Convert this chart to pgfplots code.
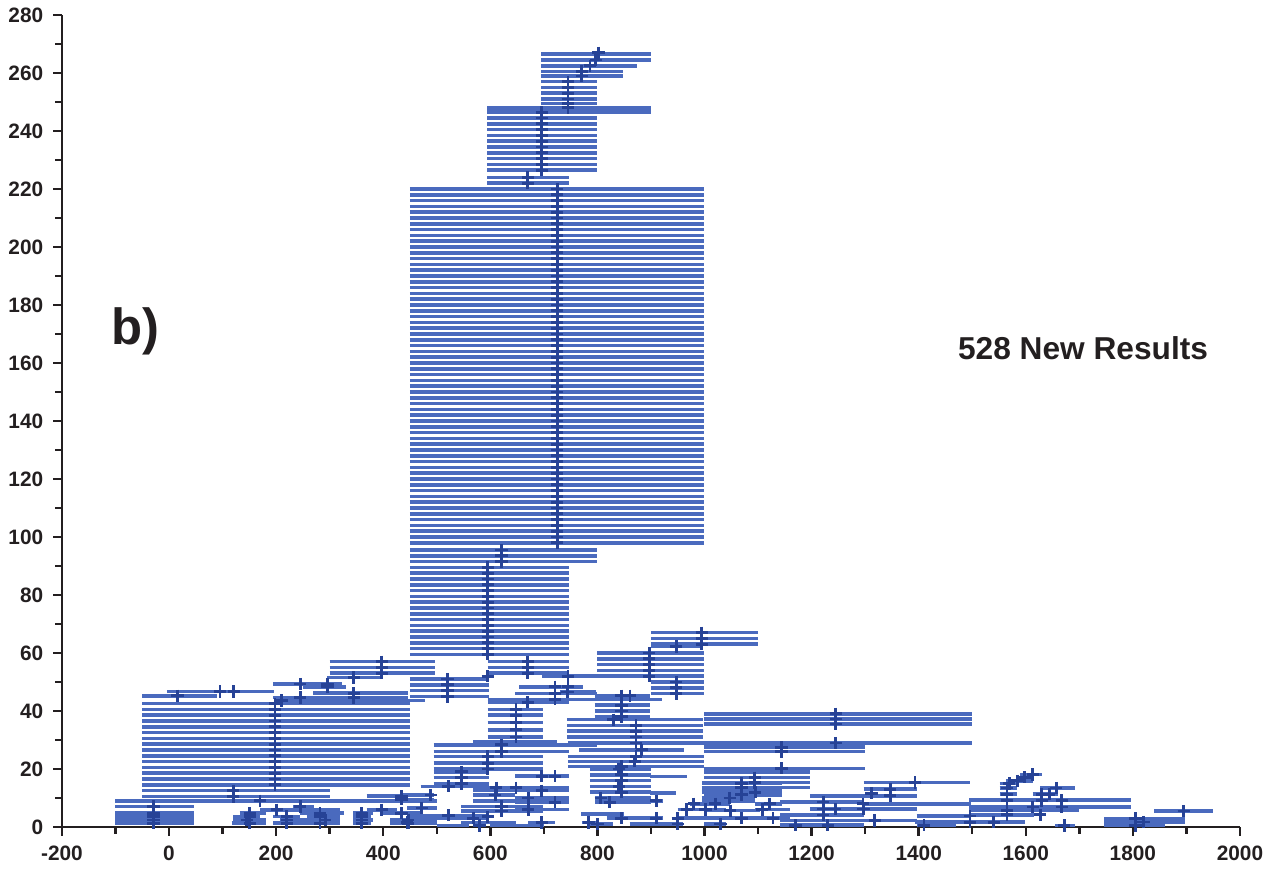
\documentclass[border=0pt]{standalone}
\usepackage{pgfplots}
\pgfplotsset{compat=1.18}
\usepackage{pgfplotstable}
\usepackage{fontspec}
\setmainfont{Liberation Sans}
\definecolor{barblue}{RGB}{74,106,190}
\definecolor{markblue}{RGB}{38,66,150}
\definecolor{axisgray}{RGB}{35,31,32}

\pgfplotstableread{
y lo hi
266.5 695 900
264.5 695 900
262.5 695 874
260.5 695 848
259 695 848
257 695 799
255 695 799
253 695 799
251 695 799
249.5 695 799
248 594 900
246.5 594 900
244.5 594 799
242.5 594 799
240.5 594 799
238.5 594 799
236.5 594 799
234.5 594 799
232.5 594 799
230.5 594 799
228.5 594 799
226.5 594 799
224 594 747
222 594 747
220 450 1000
218 450 1000
216 450 1000
214 450 1000
212 450 1000
210 450 1000
208 450 1000
206 450 1000
204 450 1000
202 450 1000
200 450 1000
198 450 1000
196 450 1000
194 450 1000
192 450 1000
190 450 1000
188 450 1000
186 450 1000
184 450 1000
182 450 1000
180 450 1000
178 450 1000
176 450 1000
174 450 1000
172 450 1000
170 450 1000
168 450 1000
166 450 1000
164 450 1000
162 450 1000
160 450 1000
158 450 1000
156 450 1000
154 450 1000
152 450 1000
150 450 1000
148 450 1000
146 450 1000
144 450 1000
142 450 1000
140 450 1000
138 450 1000
136 450 1000
134 450 1000
132 450 1000
130 450 1000
128 450 1000
126 450 1000
124 450 1000
122 450 1000
120 450 1000
118 450 1000
116 450 1000
114 450 1000
112 450 1000
110 450 1000
108 450 1000
106 450 1000
104 450 1000
102 450 1000
100 450 1000
98 450 1000
95.5 450 799
93.5 450 799
91.5 450 799
89.5 450 747
87.5 450 747
85.5 450 747
83.5 450 747
81.5 450 747
79.5 450 747
77.5 450 747
75.5 450 747
73.5 450 747
71.5 450 747
69.5 450 747
67.5 450 747
65.5 450 747
63.5 450 747
61.5 450 747
59.5 450 747
67 900 1100
65 900 1100
63 900 1100
62.2 900 997
60 800 1000
58 800 1000
56 800 1000
54 800 1000
52 800 1000
57 300 497
55 300 497
53 300 497
57 595 747
55 595 747
53 595 747
51.5 295 400
52 696 799
51 450 597
49 450 597
47 450 597
45 450 597
49.3 194 323
48.3 250 330
48.3 654 773
46.7 -4 196
46.1 269 447
46 646 799
45.2 -50 90
44.6 194 447
44 595 799
43.6 207 478
43 595 747
50 900 1000
48 900 1000
46 900 1000
46.5 730 798
45.2 795 898
44 795 920
42 795 899
40 795 899
38 795 899
40.5 595 698
38.5 595 698
36 595 698
33.5 595 698
31 595 698
37 743 997
35 743 997
33 743 997
31 743 997
39 1000 1500
37.2 1000 1500
35.5 1000 1500
28.9 1000 1500
27.5 1000 1300
26 1000 1300
28.9 745 1000
26.6 766 962
24.3 745 1000
22.6 745 1000
20.8 745 1000
42.5 -50 450
40.5 -50 450
38.5 -50 450
36.5 -50 450
34.5 -50 450
32.5 -50 450
30.5 -50 450
28.5 -50 450
26.5 -50 450
24.5 -50 450
22.5 -50 450
20.5 -50 450
18.5 -50 450
16.5 -50 450
14.5 -50 450
12.5 -50 300
10.5 -50 300
10.6 369 447
29.4 568 724
28.3 494 799
26 494 747
24.3 494 698
22 494 698
20 494 698
19 494 597
17 494 597
15 494 597
17.5 646 747
14 470 597
13.5 568 747
12.5 568 747
11 431 494
9.5 431 494
11 568 646
9 568 646
10 646 747
8.5 646 747
7 546 698
5.5 546 698
6.5 445 500
4 445 598
3 445 598
6 646 747
1.5 445 497
1.5 546 648
1.5 671 721
1.5 771 799
0.5 500 560
0.5 600 700
20 786 900
18 786 900
16 786 900
14 786 900
12 786 900
17.4 899 967
15.1 995 1145
13.5 995 1145
12 995 1145
11.6 899 947
10 995 1095
9 995 1095
10 796 900
8.5 796 900
9 900 922
8 973 1047
8 1095 1145
6 950 1040
6 1095 1160
4.5 770 850
3 817 900
3 900 922
3 947 1020
3 1020 1160
1 780 830
1 860 960
1 1000 1040
20.2 1000 1300
19 1000 1197
17 1000 1197
15.3 1000 1197
15.3 1297 1496
13.6 1000 1197
13 1297 1396
11.1 1000 1145
10.7 1197 1396
8.6 1141 1296
8 1296 1497
6.2 1197 1396
5.6 1000 1104
4.1 1141 1297
3.8 1396 1496
2.2 1141 1396
0.6 1141 1297
0.6 1396 1470
18.1 1590 1630
17.1 1582 1614
15.9 1563 1614
15 1551 1583
13.4 1551 1583
13.4 1627 1692
11.3 1551 1583
11.3 1613 1660
9.3 1494 1797
6.9 1494 1797
5.6 1494 1700
4.2 1494 1615
1.6 1393 1598
0.5 1655 1692
2.9 1747 1897
1.7 1747 1897
0.4 1747 1860
5.5 1840 1950
9 -100 500
7 -100 47
7 232 270
5.9 170 320
5.9 369 425
4.7 -100 47
4.7 132 182
4.7 245 326
4.7 344 380
4.7 397 469
3.6 -100 47
3.6 120 170
3.6 195 245
3.6 257 320
3.6 344 378
2.4 -100 47
2.4 120 182
2.4 207 245
2.4 245 320
2.4 344 380
2.4 413 500
1.3 -100 47
1.3 117 182
1.3 195 245
1.3 240 320
1.3 344 378
1.3 413 500
}\segs

\pgfplotstableread{
x y
802 267
797 264.5
786 262.5
771 260.5
771 259
745 257
745 255
745 253
745 251
745 249.5
745 248
696 246.5
696 244.5
696 242.5
696 240.5
696 238.5
696 236.5
696 234.5
696 232.5
696 230.5
696 228.5
696 226.5
670 224
670 222
725 220
725 218
725 216
725 214
725 212
725 210
725 208
725 206
725 204
725 202
725 200
725 198
725 196
725 194
725 192
725 190
725 188
725 186
725 184
725 182
725 180
725 178
725 176
725 174
725 172
725 170
725 168
725 166
725 164
725 162
725 160
725 158
725 156
725 154
725 152
725 150
725 148
725 146
725 144
725 142
725 140
725 138
725 136
725 134
725 132
725 130
725 128
725 126
725 124
725 122
725 120
725 118
725 116
725 114
725 112
725 110
725 108
725 106
725 104
725 102
725 100
725 98
621 95.5
621 93.5
621 91.5
595 89.5
595 87.5
595 85.5
595 83.5
595 81.5
595 79.5
595 77.5
595 75.5
595 73.5
595 71.5
595 69.5
595 67.5
595 65.5
595 63.5
595 61.5
595 59.5
397 57
397 55
397 53
670 57
670 55
670 53
345 51.5
745 52
595 52
520 51
520 49
520 47
520 45
245 49.3
296 49.3
296 48.3
721 48.3
745 48.3
721 46
721 44
670 43
95 46.7
121 46.7
345 46.1
16 45.2
245 44.6
345 44.6
210 43.6
198 42.5
198 40.5
198 38.5
198 36.5
198 34.5
198 32.5
198 30.5
198 28.5
198 26.5
198 24.5
198 22.5
198 20.5
198 18.5
198 16.5
198 14.5
120 12.5
120 10.5
434 10.6
648 40.5
648 38.5
648 36
648 33.5
648 31
995 67
995 65
995 63
947 62.2
897 60
897 58
897 56
897 54
897 52
947 50
947 48
947 46
744 46.5
845 45.2
861 45.2
845 42
845 40
845 38
830 37
872 35
872 33
872 31
1245 39
1245 37.2
1245 35.5
1245 28.9
1144 27.5
1144 26
872 28.9
883 26.6
872 24.3
870 22.6
845 20.8
621 28.3
621 26
595 24.3
595 22
595 20
546 19
546 17
546 15
696 17.5
721 17.5
522 14
611 13.5
648 13.5
696 12.5
489 11
434 9.5
609 11
671 10
721 8.5
621 7
621 5.5
472 6.5
671 6
522 4
568 3
595 3.5
445 1.5
696 1.5
784 1.5
580 0.5
840 20
845 18
845 16
840 14
845 12
1069 15.1
1069 13.5
1095 12
1047 10
806 10
823 8.5
910 9
980 8
1020 8
1122 8
967 6
1002 6
1108 6
845 3
910 3
950 3
1069 3
1128 3
800 1
950 1
1030 1
1144 20.2
1094 17
1094 15.3
1393 15.3
1347 13
1312 11.6
1069 11.1
1347 10.7
1222 8.6
1296 8
1222 6.2
1244 6.2
1297 6.2
1048 5.6
1222 4.1
1496 3.8
1318 2.2
1170 0.6
1230 0.6
1410 0.6
1613 18.1
1598 17.1
1584 15.9
1569 15
1565 13.4
1657 13.4
1565 11.3
1630 11.3
1644 11.3
1565 9.1
1630 9.1
1667 9.1
1613 6.9
1667 6.9
1565 5.6
1565 4.2
1627 4.2
1496 1.6
1540 1.6
1672 0.5
1805 2.9
1820 1.7
1805 0.4
1895 5.5
170 9
-29 7
245 7
201 5.9
397 5.9
-29 4.7
151 4.7
282 4.7
360 4.7
434 4.7
-29 3.6
151 3.6
220 3.6
282 3.6
360 3.6
-29 2.4
145 2.4
220 2.4
292 2.4
360 2.4
447 2.4
-29 1.3
151 1.3
220 1.3
282 1.3
360 1.3
447 1.3
}\marks

\begin{document}
\begin{tikzpicture}
\begin{axis}[
  scale only axis,
  width=424.1pt, height=292.3pt,
  xmin=-200, xmax=2000, ymin=0, ymax=280,
  axis lines*=left,
  axis line style={line width=0.9pt, color=axisgray},
  xtick={-200,0,200,400,600,800,1000,1200,1400,1600,1800,2000},
  xticklabels={-200,0,200,400,600,800,1000,1200,1400,1600,1800,2000},
  ytick={0,20,40,60,80,100,120,140,160,180,200,220,240,260,280},
  yticklabels={0,20,40,60,80,100,120,140,160,180,200,220,240,260,280},
  minor xtick={-100,100,300,500,700,900,1100,1300,1500,1700,1900},
  minor ytick={10,30,50,70,90,110,130,150,170,190,210,230,250,270},
  tick align=outside,
  tick style={line width=0.9pt, color=axisgray},
  major tick length=3.2pt, minor tick length=2.4pt,
  ticklabel style={font=\fontsize{7.5}{9}\selectfont\bfseries, text=axisgray},
]
\addplot[draw=none, mark=none, forget plot,
  error bars/.cd, x dir=plus, x explicit, error mark=none,
  error bar style={draw=barblue, line width=1.3pt}]
  table[x=lo, y=y, x error plus expr=\thisrow{hi}-\thisrow{lo}] {\segs};
\addplot[only marks, mark=+, mark size=2.2pt,
  mark options={draw=markblue, line width=1pt}]
  table[x=x, y=y] {\marks};
\node[font=\fontsize{18.3}{20}\selectfont\bfseries, text=axisgray] at (axis cs:-62,171) {b)};
\node[font=\fontsize{11.4}{13}\selectfont\bfseries, text=axisgray] at (axis cs:1707,165) {528 New Results};
\end{axis}
\pgfresetboundingbox
\path[use as bounding box] ([xshift=-22.3pt, yshift=-18pt]current axis.south west) rectangle ([xshift=13.7pt, yshift=5.4pt]current axis.north east);
\end{tikzpicture}
\end{document}
